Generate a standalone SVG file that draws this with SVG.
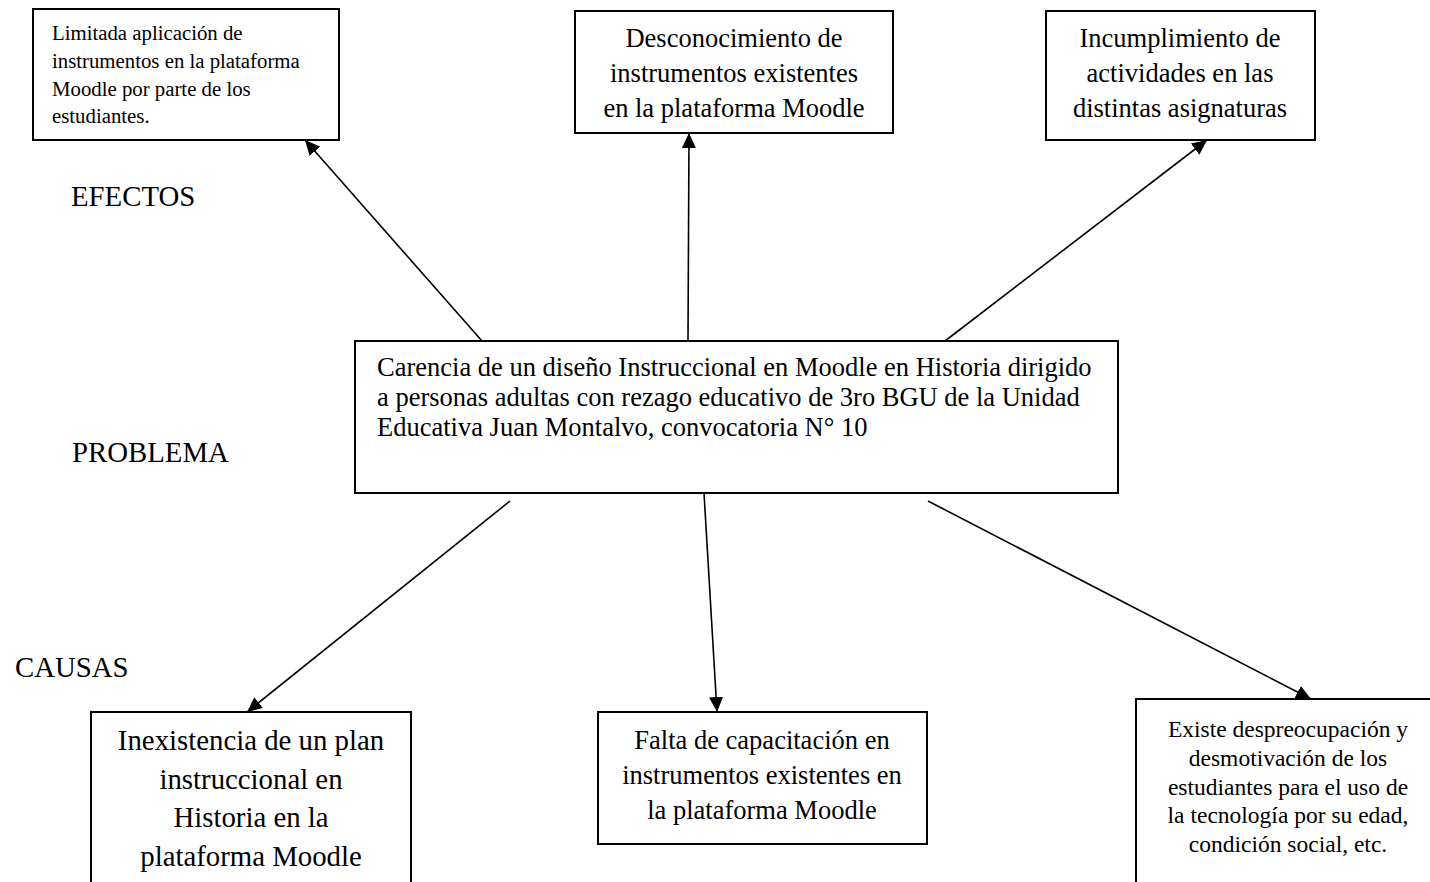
<svg xmlns="http://www.w3.org/2000/svg" width="1430" height="882" viewBox="0 0 1430 882">
<defs>
<style>
.box{fill:#fff;stroke:#000;stroke-width:2}
.t{font-family:"Liberation Serif","Times New Roman",serif;fill:#000}
.c{text-anchor:middle}
.f21{font-size:20.8px}
.f23{font-size:23.5px}
.f26{font-size:26.5px}
.f29{font-size:28.8px}
.ln{stroke:#000;stroke-width:1.6;fill:none}
</style>
<marker id="ah" markerUnits="userSpaceOnUse" markerWidth="16" markerHeight="14" refX="15" refY="7" orient="auto">
<path d="M0,0 L15,7 L0,14 z" fill="#000"/>
</marker>
</defs>
<rect width="1430" height="882" fill="#fff"/>

<g id="labels">
<text class="t f29" x="71" y="206">EFECTOS</text>
<text class="t f29" x="72" y="462">PROBLEMA</text>
<text class="t f29" x="15" y="677">CAUSAS</text>
</g>

<g id="connectors">
<line class="ln" x1="482" y1="341" x2="305" y2="140" marker-end="url(#ah)"/>
<line class="ln" x1="688" y1="341" x2="689" y2="133" marker-end="url(#ah)"/>
<line class="ln" x1="945" y1="341" x2="1207" y2="140" marker-end="url(#ah)"/>
<line class="ln" x1="510" y1="501" x2="247" y2="712" marker-end="url(#ah)"/>
<line class="ln" x1="704" y1="493" x2="717" y2="712" marker-end="url(#ah)"/>
<line class="ln" x1="928" y1="501" x2="1311" y2="699" marker-end="url(#ah)"/>
</g>

<g id="efecto1">
<rect class="box" x="33" y="9" width="306" height="131"/>
<text class="t f21" x="52" y="40">Limitada aplicación de</text>
<text class="t f21" x="52" y="68">instrumentos en la plataforma</text>
<text class="t f21" x="52" y="96">Moodle por parte de los</text>
<text class="t f21" x="52" y="123">estudiantes.</text>
</g>

<g id="efecto2">
<rect class="box" x="575" y="11" width="318" height="122"/>
<text class="t f26 c" x="734" y="47">Desconocimiento de</text>
<text class="t f26 c" x="734" y="82">instrumentos existentes</text>
<text class="t f26 c" x="734" y="117">en la plataforma Moodle</text>
</g>

<g id="efecto3">
<rect class="box" x="1046" y="11" width="269" height="129"/>
<text class="t f26 c" x="1180" y="47">Incumplimiento de</text>
<text class="t f26 c" x="1180" y="82">actividades en las</text>
<text class="t f26 c" x="1180" y="117">distintas asignaturas</text>
</g>

<g id="problema">
<rect class="box" x="355" y="341" width="763" height="152"/>
<text class="t f26" x="377" y="376">Carencia de un diseño Instruccional en Moodle en Historia dirigido</text>
<text class="t f26" x="377" y="406">a personas adultas con rezago educativo de 3ro BGU de la Unidad</text>
<text class="t f26" x="377" y="436">Educativa Juan Montalvo, convocatoria N° 10</text>
</g>

<g id="causa1">
<rect class="box" x="91" y="712" width="320" height="200"/>
<text class="t f29 c" x="251" y="750">Inexistencia de un plan</text>
<text class="t f29 c" x="251" y="789">instruccional en</text>
<text class="t f29 c" x="251" y="827">Historia en la</text>
<text class="t f29 c" x="251" y="866">plataforma Moodle</text>
</g>

<g id="causa2">
<rect class="box" x="598" y="712" width="329" height="132"/>
<text class="t f26 c" x="762" y="749">Falta de capacitación en</text>
<text class="t f26 c" x="762" y="784">instrumentos existentes en</text>
<text class="t f26 c" x="762" y="819">la plataforma Moodle</text>
</g>

<g id="causa3">
<rect class="box" x="1136" y="699" width="310" height="200"/>
<text class="t f23 c" x="1288" y="737">Existe despreocupación y</text>
<text class="t f23 c" x="1288" y="766">desmotivación de los</text>
<text class="t f23 c" x="1288" y="795">estudiantes para el uso de</text>
<text class="t f23 c" x="1288" y="823">la tecnología por su edad,</text>
<text class="t f23 c" x="1288" y="852">condición social, etc.</text>
</g>
</svg>
